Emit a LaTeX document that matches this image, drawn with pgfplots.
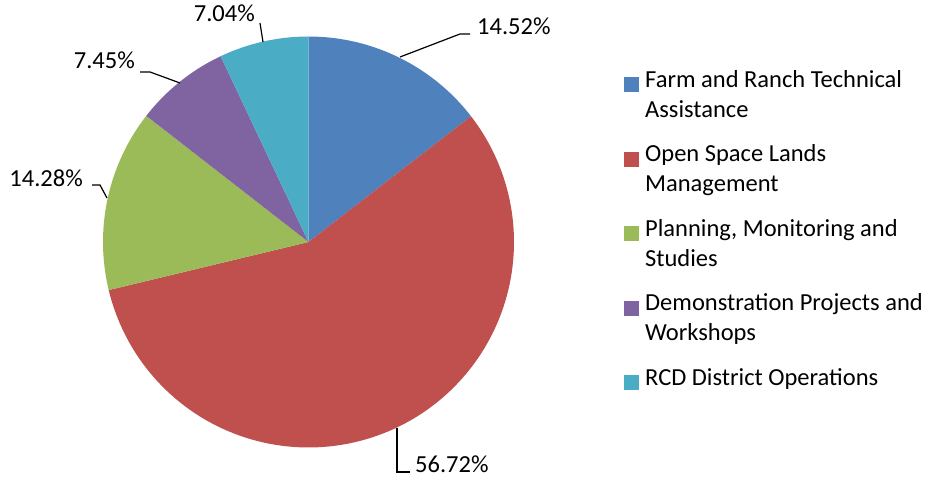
\documentclass[border=0pt]{standalone}
\usepackage{pgfplots}
\pgfplotsset{compat=1.18}
\usepackage{fontspec}
\setmainfont{Carlito}
\definecolor{c1}{HTML}{4F81BD}
\definecolor{c2}{HTML}{C0504D}
\definecolor{c3}{HTML}{9BBB59}
\definecolor{c4}{HTML}{8064A2}
\definecolor{c5}{HTML}{4BACC6}
\newcommand\lf{\fontsize{24.5bp}{30bp}\selectfont}
\pgfplotsset{
  twoline square/.style={legend image code/.code={\fill[##1] (0bp,25bp) rectangle (15bp,40bp);}},
  oneline square/.style={legend image code/.code={\fill[##1] (0bp,-5bp) rectangle (15bp,10bp);}},
}
\begin{document}
\begin{tikzpicture}
% slice shares (percent)
\pgfmathsetmacro\pA{14.52}
\pgfmathsetmacro\pB{56.72}
\pgfmathsetmacro\pC{14.28}
\pgfmathsetmacro\pD{7.45}
\pgfmathsetmacro\pE{7.04}
\pgfmathsetmacro\eA{90-\pA*3.6}
\pgfmathsetmacro\eB{\eA-\pB*3.6}
\pgfmathsetmacro\eC{\eB-\pC*3.6}
\pgfmathsetmacro\eD{\eC-\pD*3.6}
\pgfmathsetmacro\eE{\eD-\pE*3.6}
\useasboundingbox (0,0) rectangle (939bp,478bp);
\begin{axis}[at={(0,0)}, anchor=south west, scale only axis,
  width=939bp, height=478bp, xmin=0, xmax=939, ymin=0, ymax=478,
  hide axis, clip=false,
  legend style={at={(0.6645,0.8613)}, anchor=north west, draw=none, fill=none,
    font=\lf, cells={align=left, anchor=base west}, nodes={inner sep=0pt},
    row sep=22bp, column sep=6bp, inner sep=0pt},
]
\addplot[twoline square, fill=c1, draw=none, domain=\eA:90, samples=60, variable=\t]
  ({308.5+205.5*cos(\t)},{236+205.5*sin(\t)}) -- (axis cs:308.5,236) -- cycle;
\addlegendentry{\strut Farm and Ranch Technical\\\strut Assistance}
\addplot[twoline square, fill=c2, draw=none, domain=\eB:\eA, samples=120, variable=\t]
  ({308.5+205.5*cos(\t)},{236+205.5*sin(\t)}) -- (axis cs:308.5,236) -- cycle;
\addlegendentry{\strut Open Space Lands\\\strut Management}
\addplot[twoline square, fill=c3, draw=none, domain=\eC:\eB, samples=60, variable=\t]
  ({308.5+205.5*cos(\t)},{236+205.5*sin(\t)}) -- (axis cs:308.5,236) -- cycle;
\addlegendentry{\strut Planning, Monitoring and\\\strut Studies}
\addplot[twoline square, fill=c4, draw=none, domain=\eD:\eC, samples=40, variable=\t]
  ({308.5+205.5*cos(\t)},{236+205.5*sin(\t)}) -- (axis cs:308.5,236) -- cycle;
\addlegendentry{\strut Demonstration Projects and\\\strut Workshops}
\addplot[oneline square, fill=c5, draw=none, domain=\eE:\eD, samples=40, variable=\t]
  ({308.5+205.5*cos(\t)},{236+205.5*sin(\t)}) -- (axis cs:308.5,236) -- cycle;
\addlegendentry{\strut RCD District Operations}
% leader lines and labels
\draw[black, line width=1.2bp] (axis cs:400,421) -- (axis cs:460,444) -- (axis cs:470,444);
\node[font=\lf, anchor=base west, inner sep=0pt] at (axis cs:477,443) {14.52\%};
\draw[black, line width=1.2bp] (axis cs:397,50) -- (axis cs:397,6) -- (axis cs:410,6);
\node[font=\lf, anchor=base west, inner sep=0pt] at (axis cs:415,6) {56.72\%};
\draw[black, line width=1.2bp] (axis cs:92,293) -- (axis cs:100,293) -- (axis cs:107,280);
\node[font=\lf, anchor=base east, inner sep=0pt] at (axis cs:83,291) {14.28\%};
\draw[black, line width=1.2bp] (axis cs:140,406) -- (axis cs:150,406) -- (axis cs:180,395);
\node[font=\lf, anchor=base east, inner sep=0pt] at (axis cs:135,409) {7.45\%};
\draw[black, line width=1.2bp] (axis cs:260,455) -- (axis cs:263,436);
\node[font=\lf, anchor=base east, inner sep=0pt] at (axis cs:255,456) {7.04\%};
\end{axis}
\end{tikzpicture}
\end{document}
